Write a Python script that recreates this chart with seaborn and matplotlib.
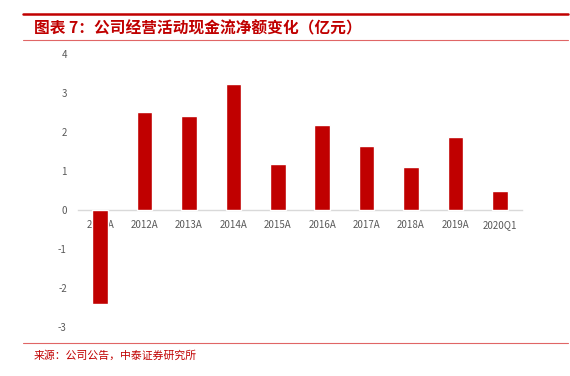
import matplotlib
matplotlib.use("Agg")
import matplotlib.pyplot as plt
import seaborn as sns
import pandas as pd

# --- DATA ---
years = ["2011A", "2012A", "2013A", "2014A", "2015A", "2016A",
         "2017A", "2018A", "2019A", "2020Q1"]
cash_flow = [-2.42, 2.51, 2.40, 3.22, 1.18, 2.18, 1.64, 1.11, 1.86, 0.48]
y_ticks = [-3, -2, -1, 0, 1, 2, 3, 4]

title = "图表 7：公司经营活动现金流净额变化（亿元）"
source = "来源：公司公告，中泰证券研究所"

RED = "#C00000"
LINE_RED = "#E06666"

sns.set_style("white")
plt.rcParams['font.family'] = ['Noto Sans CJK SC', 'DejaVu Sans']

df = pd.DataFrame({"year": years, "value": cash_flow})

fig = plt.figure(figsize=(5.70, 3.76), dpi=100)
ax = fig.add_axes([78 / 570, (376 - 327) / 376, 444 / 570, 273 / 376])

sns.barplot(data=df, x="year", y="value", color=RED, saturation=1,
            width=0.35, ax=ax)

ax.set_ylim(-3, 4)
ax.set_yticks(y_ticks)
ax.set_yticklabels([str(t) for t in y_ticks])
ax.set_xlabel("")
ax.set_ylabel("")

for side in ["top", "right", "left"]:
    ax.spines[side].set_visible(False)
ax.spines["bottom"].set_position(("data", 0))
ax.spines["bottom"].set_color("#D9D9D9")
ax.spines["bottom"].set_linewidth(1)
ax.spines["bottom"].set_zorder(0.5)

ax.tick_params(axis="x", length=0, pad=7, labelsize=7, labelcolor="#595959")
ax.tick_params(axis="y", length=0, pad=8, labelsize=7, labelcolor="#595959")

# header / footer decorations
fig.add_artist(plt.Line2D([23 / 570, 568 / 570], [1 - 14 / 376, 1 - 14 / 376],
                          color=RED, lw=1.8, transform=fig.transFigure))
fig.add_artist(plt.Line2D([23 / 570, 568 / 570], [1 - 40 / 376, 1 - 40 / 376],
                          color=LINE_RED, lw=0.8, transform=fig.transFigure))
fig.add_artist(plt.Line2D([23 / 570, 568 / 570], [1 - 343 / 376, 1 - 343 / 376],
                          color=LINE_RED, lw=0.8, transform=fig.transFigure))

fig.text(34 / 570, 1 - 28 / 376, title, color=RED, fontsize=11.3,
         fontweight="bold", va="center", ha="left")
fig.text(34 / 570, 1 - 356 / 376, source, color=RED, fontsize=7.8,
         va="center", ha="left")

fig.savefig("out.png", dpi=100)
